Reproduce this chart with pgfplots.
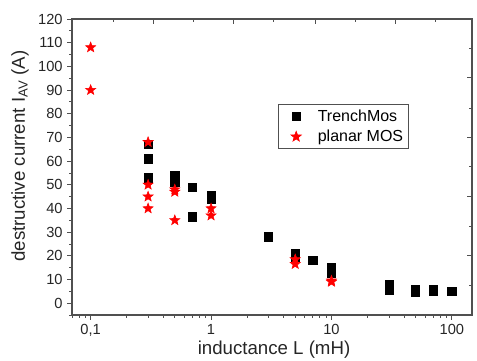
\documentclass[border=0pt]{standalone}
\usepackage{pgfplots}
\pgfplotsset{compat=1.18}
\usepackage{fontspec}
\setmainfont{Liberation Sans}
\pgfdeclareplotmark{fstar}{%
  \pgfpathmoveto{\pgfpointpolar{90}{\pgfplotmarksize}}%
  \pgfpathlineto{\pgfpointpolar{126}{0.42\pgfplotmarksize}}%
  \pgfpathlineto{\pgfpointpolar{162}{\pgfplotmarksize}}%
  \pgfpathlineto{\pgfpointpolar{198}{0.42\pgfplotmarksize}}%
  \pgfpathlineto{\pgfpointpolar{234}{\pgfplotmarksize}}%
  \pgfpathlineto{\pgfpointpolar{270}{0.42\pgfplotmarksize}}%
  \pgfpathlineto{\pgfpointpolar{306}{\pgfplotmarksize}}%
  \pgfpathlineto{\pgfpointpolar{342}{0.42\pgfplotmarksize}}%
  \pgfpathlineto{\pgfpointpolar{18}{\pgfplotmarksize}}%
  \pgfpathlineto{\pgfpointpolar{54}{0.42\pgfplotmarksize}}%
  \pgfpathclose
  \pgfusepathqfillstroke}
\definecolor{axgray}{RGB}{80,80,80}
\begin{document}
\begin{tikzpicture}
\useasboundingbox (-54pt,-33.75pt) rectangle (303.75pt,236.25pt);
\begin{axis}[
  xmode=log, log basis x=10,
  scale only axis, width=300pt, height=222pt,
  xmin=0.07, xmax=147, ymin=-5, ymax=120,
  xtick={0.1,1,10,100}, xticklabels={{0,1},1,10,100},
  minor xtick={0.07,0.08,0.09,0.2,0.3,0.4,0.5,0.6,0.7,0.8,0.9,2,3,4,5,6,7,8,9,20,30,40,50,60,70,80,90},
  ytick={0,10,...,120}, minor ytick={-5,5,15,...,115},
  tick align=outside, xtick pos=lower, ytick pos=lower,
  major tick length=3.5pt, minor tick length=2pt,
  every tick/.style={axgray, line width=0.6pt},
  axis line style={axgray, line width=0.9pt},
  ticklabel style={font=\fontsize{11}{13}\selectfont, text=black!85},
  /pgf/number format/assume math mode=true,
  xlabel={inductance L (mH)},
  ylabel={destructive current I\textsubscript{AV} (A)},
  label style={font=\fontsize{14}{16}\selectfont, text=black!85},
  xlabel style={at={(axis description cs:0.505,-0.117)}, anchor=center},
  ylabel style={at={(axis description cs:-0.13,0.537)}, anchor=center},
  legend style={at={(axis description cs:0.515,0.713)}, anchor=north west,
    draw=axgray, line width=0.5pt, font=\fontsize{12}{14}\selectfont,
    inner sep=2pt, row sep=1pt},
  legend cell align=left,
  legend image code/.code={%
    \path[draw=none,fill=none] (0cm,0cm) (0.9cm,0cm);
    \path[#1, draw=none, mark repeat=1, mark phase=1] plot coordinates {(0.4cm,0cm)};},
  clip=false,
]
\addplot[only marks, mark=square*, mark size=3.1pt, black] coordinates {
 (0.3,67) (0.3,61) (0.3,53) (0.5,54) (0.5,51) (0.7,49) (0.7,36.5)
 (1,45.5) (1,44) (3,28) (5,21) (5,19.5) (7,18) (10,15) (10,12.5)
 (30,8) (30,5.5) (50,6) (50,4.5) (70,6) (70,5) (100,5)
};
\addlegendentry{TrenchMos}
\addplot[only marks, mark=fstar, mark size=4pt, red] coordinates {
 (0.1,108) (0.1,90) (0.3,68) (0.3,50) (0.3,45) (0.3,40)
 (0.5,48) (0.5,47) (0.5,35) (1,40) (1,37) (5,18.5) (5,16.5) (10,9.5) (10,9)
};
\addlegendentry{planar MOS}
\end{axis}
\begin{axis}[
  scale only axis, width=300pt, height=222pt,
  xmin=0, xmax=400, ymin=0, ymax=296,
  axis line style={draw=none},
  tick align=inside, xtick pos=upper, ytick pos=upper,
  xtick={81,161,243,323}, minor xtick={41,121,201,283,363},
  ytick={59.3,118.3,177.3,237.3}, minor ytick={30,88.3,148.3,206.7,266.7},
  xticklabels={}, yticklabels={},
  major tick length=3.5pt, minor tick length=2pt,
  every tick/.style={axgray, line width=0.6pt},
]
\end{axis}
\end{tikzpicture}
\end{document}
